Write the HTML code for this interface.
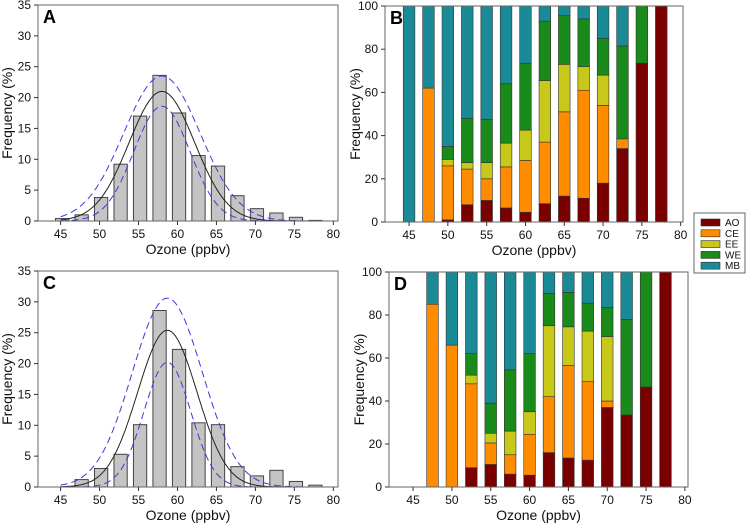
<!DOCTYPE html>
<html><head><meta charset="utf-8"><style>
body{margin:0;background:#fff;font-family:"Liberation Sans",sans-serif}
svg text{font-family:"Liberation Sans",sans-serif}
</style></head><body>
<svg id="c" width="746" height="523" xmlns="http://www.w3.org/2000/svg"></svg>
<script>
const xCats=[45,47.5,50,52.5,55,57.5,60,62.5,65,67.5,70,72.5,75,77.5];
const histA=[0.4,1.0,3.8,9.2,17,23.6,17.5,10.6,8.9,4.1,2.0,1.3,0.6,0.1];
const histC=[0,1.2,3.0,5.3,10.1,28.6,22.3,10.4,10.1,3.3,1.8,2.7,0.9,0.3];
const fitA=[58,21,4.2], fitAup=[58,23.5,4.9], fitAlo=[58,18.6,3.6];
const fitC=[58.7,25.4,3.8], fitCup=[58.7,30.6,4.5], fitClo=[58.7,20.2,3.0];
const seriesNames=["AO","CE","EE","WE","MB"];
const colors=["#7a0000","#ff8c00","#c8c81a","#1a8a1a","#1a8a96"];
const B_AO=[0,0,1,8,10,6.5,4.5,8.5,12,11,18,34,73.5,100];
const B_CE=[0,62,25,16.5,10,19,24,28.5,39,50,36,4.5,0,0];
const B_EE=[0,0,3,3,7.5,11,14,28.5,22,11,14,0,0,0];
const B_WE=[0,0,6,20.5,20,27.5,31,27.5,22.5,22,17,43,26.5,0];
const B_MB=[100,38,65,52,52.5,36,26.5,7,4.5,6,15,18.5,0,0];
const D_AO=[0,0,0,9,10.5,6,5.5,16,13.5,12.5,37,33.5,46.5,100];
const D_CE=[0,85,66,39,10,9,19,26,43,36.5,3,0,0,0];
const D_EE=[0,0,0,4,4.5,11,10.5,33,18,23.5,30,0,0,0];
const D_WE=[0,0,0,10,14,28.5,27,15,16,13,13.5,44.5,53.5,0];
const D_MB=[0,15,34,38,61,45.5,38,10,9.5,14.5,16.5,22,0,0];
const xTicks=[45,50,55,60,65,70,75,80];
const yTicksH=[0,5,10,15,20,25,30,35];
const yTicksS=[0,20,40,60,80,100];

const svg=document.getElementById('c');
const NS='http://www.w3.org/2000/svg';
function el(tag,attrs,parent){const e=document.createElementNS(NS,tag);for(const k in attrs)e.setAttribute(k,attrs[k]);(parent||svg).appendChild(e);return e;}
function txt(s,attrs,parent){const t=el('text',attrs,parent);t.textContent=s;return t;}

function panel(p){
  const g=el('g',{});
  
  
  const X=v=>p.x0+(v-p.xmin)/(p.xmax-p.xmin)*(p.x1-p.x0);
  const Y=v=>p.y1-(v/p.ymax)*(p.y1-p.y0);
  p.draw(g,X,Y);
  const fr=el('rect',{x:p.x0,y:p.y0,width:p.x1-p.x0,height:p.y1-p.y0,fill:'none',stroke:'#666','stroke-width':1},g);
  
  
  xTicks.forEach(v=>{el('line',{x1:X(v),x2:X(v),y1:p.y1,y2:p.y1+4,stroke:'#333'},g);
    const t=txt(String(v),{x:X(v),y:p.y1+17,'text-anchor':'middle','font-size':12,fill:'#111'},g);
    });
  p.yt.forEach(v=>{el('line',{x1:p.x0-4,x2:p.x0,y1:Y(v),y2:Y(v),stroke:'#333'},g);
    const t=txt(String(v),{x:p.x0-7,y:Y(v)+4,'text-anchor':'end','font-size':12,fill:'#111'},g);
    });
  const xt=txt('Ozone (ppbv)',{x:(p.x0+p.x1)/2,y:p.y1+33,'text-anchor':'middle','font-size':14,fill:'#111'},g);
  
  const cy=(p.y0+p.y1)/2;
  const yt=txt('Frequency (%)',{x:p.ytx,y:cy,'text-anchor':'middle','font-size':14,fill:'#111',transform:`rotate(-90 ${p.ytx} ${cy})`},g);
  
  const lb=txt(p.label,{x:p.x0+5,y:p.y0+18,'font-size':18,'font-weight':'bold',fill:'#000'},g);
  
}
function gauss(f,x){return f[1]*Math.exp(-((x-f[0])**2)/(2*f[2]*f[2]));}
function hist(vals,fits){return (g,X,Y)=>{
  vals.forEach((v,i)=>{const c=xCats[i]+0.2,w=0.85;
    const r=el('rect',{x:X(c-w),y:Y(v),width:X(c+w)-X(c-w),height:Y(0)-Y(v),fill:'#c4c4c4',stroke:'#444','stroke-width':1},g);
    });
  fits.forEach((f,k)=>{let d='';for(let x=45;x<=80;x+=0.25){d+=(d?'L':'M')+X(x).toFixed(1)+','+Y(gauss(f,x)).toFixed(1);}
    const pa=el('path',{d:d,fill:'none',stroke:k==0?'#222':'#3a3ae0','stroke-width':1,'stroke-dasharray':k==0?'none':'7,4'},g);
    });
};}
function stack(arrs){return (g,X,Y)=>{
  xCats.forEach((c,i)=>{let base=0;const w=0.75;
    arrs.forEach((a,s)=>{const v=a[i];if(v<=0)return;
      const r=el('rect',{x:X(c-w),y:Y(base+v),width:X(c+w)-X(c-w),height:Y(base)-Y(base+v),fill:colors[s],stroke:'#333','stroke-width':0.6},g);
      
      base+=v;});
  });
};}
panel({name:'panel-a',label:'A',x0:38,x1:338,y0:5,y1:221,xmin:42.1,xmax:80.6,ymax:35,yt:yTicksH,ytx:12,draw:hist(histA,[fitA,fitAup,fitAlo])});
panel({name:'panel-c',label:'C',x0:38,x1:338,y0:271,y1:487,xmin:42.1,xmax:80.6,ymax:35,yt:yTicksH,ytx:12,draw:hist(histC,[fitC,fitCup,fitClo])});
panel({name:'panel-b',label:'B',x0:385,x1:683,y0:6,y1:222,xmin:41.9,xmax:80.3,ymax:100,yt:yTicksS,ytx:360,draw:stack([B_AO,B_CE,B_EE,B_WE,B_MB])});
panel({name:'panel-d',label:'D',x0:389,x1:688,y0:272,y1:487,xmin:41.9,xmax:80.4,ymax:100,yt:yTicksS,ytx:364,draw:stack([D_AO,D_CE,D_EE,D_WE,D_MB])});
const lg=el('g',{});


el('rect',{x:694,y:213,width:51,height:60,fill:'#fff',stroke:'#666'},lg);
seriesNames.forEach((n,i)=>{const y=219+i*10.8;
  const s=el('rect',{x:701,y:y,width:19,height:7,fill:colors[i],stroke:'#333','stroke-width':0.6},lg);
  
  const t=txt(n,{x:725,y:y+7,'font-size':10,fill:'#111'},lg);
  });
</script>
</body></html>
